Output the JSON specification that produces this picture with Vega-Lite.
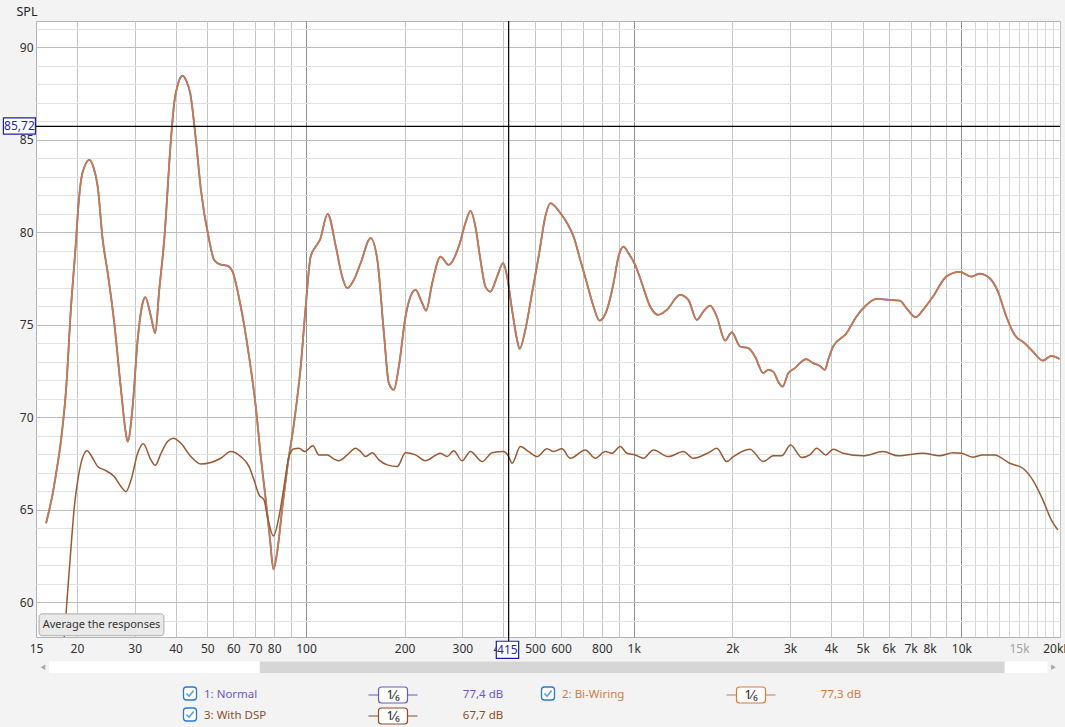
{
  "$schema": "https://vega.github.io/schema/vega-lite/v6.json",
  "width": 1024,
  "height": 616,
  "autosize": {"type": "none"},
  "padding": {"left": 36, "top": 21, "right": 5, "bottom": 90},
  "background": "#f3f3f3",
  "view": {"fill": "#ffffff", "stroke": "#b3b3b3"},
  "config": {"font": "Noto Sans", "text": {"font": "Noto Sans"}},
  "datasets": {
    "upper": [
      {"f":16.1,"n":64.27,"b":64.27},{"f":16.88,"n":65.9,"b":65.9},{"f":17.28,"n":66.97,"b":66.97},{"f":17.89,"n":68.77,"b":68.77},
      {"f":18.53,"n":71.5,"b":71.5},{"f":19.19,"n":75.98,"b":75.98},{"f":19.88,"n":79.58,"b":79.58},{"f":20.12,"n":81.0,"b":81.0},
      {"f":20.58,"n":82.8,"b":82.8},{"f":21.17,"n":83.6,"b":83.6},{"f":21.82,"n":83.9,"b":83.9},{"f":22.47,"n":83.5,"b":83.5},
      {"f":23.14,"n":82.46,"b":82.46},{"f":23.97,"n":79.58,"b":79.58},{"f":24.83,"n":77.8,"b":77.8},{"f":26.0,"n":75.08,"b":75.08},
      {"f":27.25,"n":71.5,"b":71.5},{"f":28.22,"n":69.1,"b":69.1},{"f":28.56,"n":68.68,"b":68.68},{"f":29.58,"n":70.57,"b":70.57},
      {"f":30.64,"n":74.18,"b":74.18},{"f":31.73,"n":76.16,"b":76.16},{"f":32.32,"n":76.49,"b":76.49},{"f":33.64,"n":75.44,"b":75.44},
      {"f":34.67,"n":74.54,"b":74.54},{"f":35.66,"n":76.88,"b":76.88},{"f":36.93,"n":79.58,"b":79.58},{"f":38.71,"n":84.99,"b":84.99},
      {"f":39.61,"n":86.97,"b":86.97},{"f":40.74,"n":88.05,"b":88.05},{"f":42.02,"n":88.45,"b":88.45},{"f":43.21,"n":88.14,"b":88.14},
      {"f":44.33,"n":87.51,"b":87.51},{"f":46.13,"n":84.99,"b":84.99},{"f":47.78,"n":82.3,"b":82.3},{"f":50.63,"n":79.58,"b":79.58},
      {"f":52.45,"n":78.5,"b":78.5},{"f":54.96,"n":78.24,"b":78.24},{"f":57.61,"n":78.18,"b":78.18},{"f":59.67,"n":77.87,"b":77.87},
      {"f":63.24,"n":75.98,"b":75.98},{"f":67.04,"n":73.28,"b":73.28},{"f":70.27,"n":70.57,"b":70.57},{"f":72.78,"n":67.87,"b":67.87},
      {"f":75.38,"n":65.54,"b":65.54},{"f":77.69,"n":63.37,"b":63.37},{"f":79.57,"n":61.78,"b":61.78},{"f":81.83,"n":62.82,"b":62.82},
      {"f":84.75,"n":65.17,"b":65.17},{"f":87.78,"n":67.33,"b":67.33},{"f":91.93,"n":69.68,"b":69.68},{"f":96.36,"n":72.73,"b":72.73},
      {"f":99.8,"n":75.98,"b":75.98},{"f":103.35,"n":78.68,"b":78.68},{"f":107.05,"n":79.22,"b":79.22},{"f":110.3,"n":79.58,"b":79.58},
      {"f":116.45,"n":80.99,"b":80.99},{"f":123.1,"n":79.3,"b":79.3},{"f":128.5,"n":77.7,"b":77.7},{"f":133.7,"n":76.97,"b":76.97},
      {"f":139.8,"n":77.4,"b":77.4},{"f":146.8,"n":78.32,"b":78.32},{"f":157.5,"n":79.68,"b":79.68},{"f":165.1,"n":78.5,"b":78.5},
      {"f":172.9,"n":74.54,"b":74.54},{"f":179.0,"n":71.84,"b":71.84},{"f":185.4,"n":71.48,"b":71.48},{"f":192.0,"n":72.73,"b":72.73},
      {"f":201.3,"n":75.44,"b":75.44},{"f":208.4,"n":76.52,"b":76.52},{"f":215.9,"n":76.88,"b":76.88},{"f":226.3,"n":76.16,"b":76.16},
      {"f":232.7,"n":75.76,"b":75.76},{"f":242.7,"n":77.24,"b":77.24},{"f":257.3,"n":78.68,"b":78.68},{"f":272.7,"n":78.23,"b":78.23},
      {"f":292.6,"n":79.22,"b":79.22},{"f":306.6,"n":80.49,"b":80.49},{"f":317.6,"n":81.15,"b":81.15},{"f":328.9,"n":80.3,"b":80.3},
      {"f":340.7,"n":78.5,"b":78.5},{"f":352.8,"n":77.06,"b":77.06},{"f":365.4,"n":76.79,"b":76.79},{"f":383.0,"n":77.6,"b":77.6},
      {"f":399.5,"n":78.32,"b":78.32},{"f":410.9,"n":77.6,"b":77.6},{"f":425.5,"n":75.8,"b":75.8},{"f":440.7,"n":74.18,"b":74.18},
      {"f":448.8,"n":73.69,"b":73.69},{"f":467.1,"n":74.72,"b":74.72},{"f":489.6,"n":76.7,"b":76.7},{"f":512.8,"n":78.68,"b":78.68},
      {"f":537.5,"n":80.84,"b":80.84},{"f":556.7,"n":81.57,"b":81.57},{"f":597.2,"n":81.03,"b":81.03},{"f":626.0,"n":80.49,"b":80.49},
      {"f":655.7,"n":79.76,"b":79.76},{"f":687.1,"n":78.5,"b":78.5},{"f":720.1,"n":77.24,"b":77.24},{"f":754.3,"n":75.98,"b":75.98},
      {"f":786.7,"n":75.22,"b":75.22},{"f":828.6,"n":75.8,"b":75.8},{"f":868.0,"n":77.24,"b":77.24},{"f":898.9,"n":78.68,"b":78.68},
      {"f":930.9,"n":79.22,"b":79.22},{"f":964.2,"n":78.86,"b":78.86},{"f":1010.6,"n":78.23,"b":78.23},{"f":1059.2,"n":77.24,"b":77.24},
      {"f":1122.6,"n":75.98,"b":75.98},{"f":1190.0,"n":75.53,"b":75.53},{"f":1262.2,"n":75.8,"b":75.8},{"f":1385.5,"n":76.61,"b":76.61},
      {"f":1468.9,"n":76.34,"b":76.34},{"f":1557.9,"n":75.26,"b":75.26},{"f":1631.6,"n":75.71,"b":75.71},{"f":1710.9,"n":76.03,"b":76.03},
      {"f":1793.2,"n":75.44,"b":75.44},{"f":1900.8,"n":74.14,"b":74.14},{"f":1992.2,"n":74.59,"b":74.59},{"f":2111.7,"n":73.82,"b":73.82},
      {"f":2238.3,"n":73.73,"b":73.73},{"f":2345.9,"n":73.28,"b":73.28},{"f":2486.6,"n":72.38,"b":72.38},{"f":2575.2,"n":72.56,"b":72.56},
      {"f":2666.9,"n":72.46,"b":72.46},{"f":2762.1,"n":71.92,"b":71.92},{"f":2848.7,"n":71.65,"b":71.65},{"f":2962.7,"n":72.38,"b":72.38},
      {"f":3105.3,"n":72.65,"b":72.65},{"f":3215.9,"n":72.92,"b":72.92},{"f":3354.3,"n":73.14,"b":73.14},{"f":3530.2,"n":72.92,"b":72.92},
      {"f":3700.8,"n":72.77,"b":72.77},{"f":3832.6,"n":72.56,"b":72.56},{"f":3922.8,"n":73.1,"b":73.1},{"f":4062.5,"n":73.82,"b":73.82},
      {"f":4462.5,"n":74.54,"b":74.54},{"f":4786.3,"n":75.44,"b":75.44},{"f":5075.3,"n":75.98,"b":75.98},{"f":5508.9,"n":76.39,"b":76.39},
      {"f":6046.3,"n":76.34,"b":76.34},{"f":6486.5,"n":76.3,"b":76.3},{"f":6798.5,"n":75.89,"b":75.89},{"f":7257.8,"n":75.4,"b":75.4},
      {"f":7638.5,"n":75.8,"b":75.8},{"f":8193.5,"n":76.52,"b":76.52},{"f":9001.8,"n":77.6,"b":77.6},{"f":9880.6,"n":77.85,"b":77.85},
      {"f":10727,"n":77.6,"b":77.6},{"f":11372,"n":77.75,"b":77.75},{"f":12199,"n":77.51,"b":77.51},{"f":12930,"n":76.79,"b":76.79},
      {"f":13714,"n":75.44,"b":75.44},{"f":14537,"n":74.45,"b":74.45},{"f":15590,"n":74.0,"b":74.0},{"f":16524,"n":73.55,"b":73.55},
      {"f":17730,"n":73.06,"b":73.06},{"f":18805,"n":73.31,"b":73.31},{"f":19937,"n":73.14,"b":73.14}
    ],
    "dsp": [
      {"f":16.1,"db":47},{"f":17.64,"db":55},{"f":18.53,"db":59.4},{"f":18.75,"db":60.66},{"f":19.19,"db":63.0},{"f":19.64,"db":65.17},
      {"f":20.12,"db":66.6},{"f":20.57,"db":67.5},{"f":21.47,"db":68.19},{"f":22.35,"db":67.78},{"f":23.14,"db":67.33},{"f":24.24,"db":67.15},
      {"f":26.0,"db":66.79},{"f":27.25,"db":66.25},{"f":28.22,"db":65.98},{"f":29.24,"db":66.6},{"f":30.64,"db":68.05},{"f":31.86,"db":68.56},
      {"f":33.64,"db":67.69},{"f":34.67,"db":67.4},{"f":36.11,"db":68.05},{"f":37.82,"db":68.68},{"f":39.34,"db":68.86},{"f":41.52,"db":68.59},
      {"f":44.54,"db":67.87},{"f":47.78,"db":67.47},{"f":51.24,"db":67.55},{"f":54.96,"db":67.78},{"f":58.97,"db":68.14},{"f":63.24,"db":67.87},
      {"f":67.04,"db":67.33},{"f":69.43,"db":66.6},{"f":71.91,"db":65.8},{"f":74.47,"db":65.53},{"f":76.27,"db":64.63},{"f":79.57,"db":63.58},
      {"f":82.74,"db":64.63},{"f":85.7,"db":66.25},{"f":88.75,"db":67.87},{"f":91.93,"db":68.29},{"f":95.21,"db":68.32},{"f":99.08,"db":68.14},
      {"f":105.0,"db":68.45},{"f":109.5,"db":67.96},{"f":116.2,"db":67.96},{"f":121.7,"db":67.73},{"f":126.0,"db":67.65},{"f":133.7,"db":67.96},
      {"f":141.7,"db":68.32},{"f":146.8,"db":68.14},{"f":152.0,"db":67.87},{"f":159.4,"db":68.08},{"f":166.9,"db":67.69},{"f":177.0,"db":67.42},
      {"f":189.9,"db":67.33},{"f":201.3,"db":68.08},{"f":215.9,"db":67.96},{"f":231.6,"db":67.65},{"f":257.3,"db":68.05},{"f":269.7,"db":67.87},
      {"f":282.4,"db":68.19},{"f":299.5,"db":67.64},{"f":317.6,"db":68.14},{"f":344.8,"db":67.6},{"f":369.8,"db":68.08},{"f":401.2,"db":68.14},
      {"f":415.4,"db":67.87},{"f":425.5,"db":67.51},{"f":451.1,"db":68.41},{"f":478.1,"db":68.14},{"f":507.2,"db":67.87},{"f":543.9,"db":68.29},
      {"f":569.7,"db":68.14},{"f":604.2,"db":68.29},{"f":640.6,"db":67.78},{"f":711.6,"db":68.23},{"f":763.4,"db":67.78},{"f":818.9,"db":68.14},
      {"f":858.3,"db":68.05},{"f":909.7,"db":68.41},{"f":953.4,"db":68.05},{"f":1010.6,"db":67.96},{"f":1071.3,"db":67.78},{"f":1148.8,"db":68.23},
      {"f":1276.3,"db":67.87},{"f":1417.9,"db":68.14},{"f":1521.0,"db":67.78},{"f":1690.5,"db":68.08},{"f":1793.2,"db":68.32},{"f":1923.1,"db":67.6},
      {"f":2014.8,"db":67.87},{"f":2264.6,"db":68.27},{"f":2486.6,"db":67.6},{"f":2666.9,"db":67.91},{"f":2829.1,"db":67.91},{"f":3013.0,"db":68.5},
      {"f":3254.6,"db":67.82},{"f":3449.8,"db":67.96},{"f":3615.8,"db":68.32},{"f":3858.5,"db":67.96},{"f":4062.5,"db":68.27},{"f":4357.9,"db":68.05},
      {"f":5014.9,"db":67.91},{"f":5769.9,"db":68.14},{"f":6409.3,"db":67.91},{"f":7638.5,"db":68.05},{"f":8586.5,"db":67.92},{"f":9427.6,"db":68.08},
      {"f":10000,"db":68.05},{"f":10847,"db":67.84},{"f":11634,"db":67.96},{"f":12632,"db":67.96},{"f":14034,"db":67.51},{"f":15404,"db":67.24},
      {"f":16524,"db":66.6},{"f":17730,"db":65.53},{"f":18805,"db":64.45},{"f":19695,"db":63.91}
    ],
    "cursor": [{"f": 415.4, "spl": 85.72, "fl": "415", "sl": "85,72"}],
    "ui": [{"label": "Average the responses"}],
    "legend": [
      {"id": 1, "name": "1: Normal", "smooth": "1⁄₆", "level": "77,4 dB"},
      {"id": 2, "name": "2: Bi-Wiring", "smooth": "1⁄₆", "level": "77,3 dB"},
      {"id": 3, "name": "3: With DSP", "smooth": "1⁄₆", "level": "67,7 dB"}
    ]
  },
  "layer": [
    {
      "layer": [
        {
          "data": {"name": "upper"},
          "mark": {"type": "line", "color": "#7466c8", "strokeWidth": 1.8, "interpolate": "monotone", "clip": true},
          "encoding": {
            "x": {
              "field": "f", "type": "quantitative",
              "scale": {"type": "log", "domain": [15, 20000], "nice": false},
              "axis": {
                "values": [15,20,30,40,50,60,70,80,90,100,200,300,400,500,600,700,800,900,1000,2000,3000,4000,5000,6000,7000,8000,9000,10000,11000,12000,13000,14000,15000,16000,17000,18000,19000,20000],
                "tickCount": 200,
                "labelExpr": "indexof([15,20,30,40,50,60,70,80,100,200,300,400,500,600,800,1000,2000,3000,4000,5000,6000,7000,8000,10000,15000], datum.value) >= 0 ? (datum.value >= 1000 ? (datum.value / 1000) + 'k' : '' + datum.value) : (datum.value == 20000 ? '20kHz' : '')",
                "grid": true,
                "gridColor": {"condition": {"test": "datum.value == 100 || datum.value == 1000 || datum.value == 10000", "value": "#8e8e8e"}, "value": "#c6c6c6"},
                "gridWidth": {"condition": {"test": "datum.value == 15", "value": 0}, "value": 1},
                "gridOpacity": {"condition": {"test": "datum.value > 10000", "value": 0.7}, "value": 1},
                "labelColor": {"condition": {"test": "datum.value == 15000", "value": "#a3a3a3"}, "value": "#303030"},
                "domain": false, "ticks": false, "labelPadding": 6, "labelFlush": false, "labelOverlap": false,
                "labelFontSize": 12, "labelFont": "Noto Sans", "title": null
              }
            },
            "y": {
              "field": "n", "type": "quantitative",
              "scale": {"domain": [58.12, 91.41], "nice": false, "zero": false},
              "axis": {
                "values": [59,60,61,62,63,64,65,66,67,68,69,70,71,72,73,74,75,76,77,78,79,80,81,82,83,84,85,86,87,88,89,90,91],
                "tickCount": 200,
                "labelExpr": "datum.value % 5 == 0 ? '' + datum.value : ''",
                "grid": true,
                "gridColor": {"condition": {"test": "datum.value % 5 == 0", "value": "#bcbcbc"}, "value": "#e2e2e2"},
                "domain": false, "ticks": false, "labelPadding": 3, "labelOverlap": false,
                "labelFontSize": 12, "labelFont": "Noto Sans", "labelColor": "#303030",
                "title": "SPL", "titleAngle": 0, "titleAlign": "left", "titleBaseline": "middle",
                "titleX": -20, "titleY": -10, "titleFontWeight": "normal", "titleFontSize": 12.5,
                "titleColor": "#222222", "titleFont": "Noto Sans"
              }
            }
          }
        },
        {
          "data": {"name": "upper"},
          "mark": {"type": "line", "color": "#c97b45", "strokeWidth": 1.7, "interpolate": "monotone", "clip": true},
          "encoding": {"x": {"field": "f", "type": "quantitative"}, "y": {"field": "b", "type": "quantitative"}}
        },
        {
          "data": {"name": "dsp"},
          "mark": {"type": "line", "color": "#975a33", "strokeWidth": 1.5, "interpolate": "monotone", "clip": true},
          "encoding": {"x": {"field": "f", "type": "quantitative"}, "y": {"field": "db", "type": "quantitative"}}
        },
        {
          "data": {"name": "cursor"},
          "mark": {"type": "rule", "color": "#000000", "strokeWidth": 1.2},
          "encoding": {"x": {"field": "f", "type": "quantitative"}, "y": {"datum": 91.41}, "y2": {"datum": 57.89}}
        },
        {
          "data": {"name": "cursor"},
          "mark": {"type": "rule", "color": "#000000", "strokeWidth": 1.2},
          "encoding": {"y": {"field": "spl", "type": "quantitative"}, "x": {"datum": 14.94}, "x2": {"datum": 20000}}
        },
        {
          "data": {"name": "cursor"},
          "mark": {"type": "rect", "fill": "#ffffff", "stroke": "#1f1fa6", "strokeWidth": 1.2},
          "encoding": {"x": {"datum": 11.93}, "x2": {"datum": 14.94}, "y": {"datum": 86.18}, "y2": {"datum": 85.3}}
        },
        {
          "data": {"name": "cursor"},
          "mark": {"type": "text", "color": "#2626b5", "align": "center", "baseline": "middle", "fontSize": 12},
          "encoding": {"x": {"datum": 13.35}, "y": {"field": "spl", "type": "quantitative"}, "text": {"field": "sl"}}
        },
        {
          "data": {"name": "cursor"},
          "mark": {"type": "rect", "fill": "#ffffff", "stroke": "#1f1fa6", "strokeWidth": 1.2},
          "encoding": {"x": {"datum": 380.9}, "x2": {"datum": 445.7}, "y": {"datum": 57.89}, "y2": {"datum": 56.96}}
        },
        {
          "data": {"name": "cursor"},
          "mark": {"type": "text", "color": "#2626b5", "align": "center", "baseline": "middle", "fontSize": 12},
          "encoding": {"x": {"datum": 411.7}, "y": {"datum": 57.42}, "text": {"field": "fl"}}
        },
        {
          "data": {"name": "ui"},
          "mark": {"type": "rect", "fill": "#e9e9e9", "stroke": "#acacac", "strokeWidth": 1, "cornerRadius": 3},
          "encoding": {"x": {"datum": 15.33}, "x2": {"datum": 36.85}, "y": {"datum": 59.37}, "y2": {"datum": 58.19}}
        },
        {
          "data": {"name": "ui"},
          "mark": {"type": "text", "color": "#333333", "align": "center", "baseline": "middle", "fontSize": 11},
          "encoding": {"x": {"datum": 23.77}, "y": {"datum": 58.78}, "text": {"field": "label"}}
        },
        {
          "data": {"name": "ui"},
          "mark": {"type": "rect", "fill": "#ffffff"},
          "encoding": {"x": {"datum": 16.43}, "x2": {"datum": 18324}, "y": {"datum": 56.8}, "y2": {"datum": 56.17}}
        },
        {
          "data": {"name": "ui"},
          "mark": {"type": "rect", "fill": "#d6d6d6"},
          "encoding": {"x": {"datum": 72.27}, "x2": {"datum": 13552}, "y": {"datum": 56.8}, "y2": {"datum": 56.17}}
        },
        {
          "data": {"name": "ui"},
          "mark": {"type": "point", "shape": "triangle-left", "size": 30, "filled": true, "color": "#8a8a8a"},
          "encoding": {"x": {"datum": 15.75}, "y": {"datum": 56.49}}
        },
        {
          "data": {"name": "ui"},
          "mark": {"type": "point", "shape": "triangle-right", "size": 30, "filled": true, "color": "#8a8a8a"},
          "encoding": {"x": {"datum": 19100}, "y": {"datum": 56.49}}
        }
      ]
    },
    {
      "data": {"name": "legend"},
      "transform": [
        {"calculate": "datum.id == 2 ? 2 : 1", "as": "col"},
        {"calculate": "datum.id == 3 ? 2 : 1", "as": "row"}
      ],
      "encoding": {
        "x": {"field": "col", "type": "quantitative", "scale": {"domain": [1, 2], "range": [154, 512], "nice": false, "zero": false}, "axis": null},
        "y": {"field": "row", "type": "quantitative", "scale": {"domain": [1, 2], "range": [674, 695], "nice": false, "zero": false}, "axis": null}
      },
      "layer": [
        {
          "data": {"values": [{}]},
          "mark": {"type": "rect", "fill": "#ffffff", "stroke": "#c9c9c9", "strokeWidth": 1, "xOffset": -13, "x2Offset": 351, "yOffset": -17, "y2Offset": 30},
          "encoding": {"x": {"datum": 1}, "x2": {"datum": 2}, "y": {"datum": 1}, "y2": {"datum": 2}}
        },
        {
          "mark": {"type": "rect", "fill": "#ffffff", "stroke": "#2a78d4", "strokeWidth": 1.3, "cornerRadius": 3, "xOffset": -6.5, "x2Offset": 6.5, "yOffset": -8, "y2Offset": 5},
          "encoding": {"x2": {"field": "col"}, "y2": {"field": "row"}}
        },
        {
          "mark": {"type": "point", "shape": "M-0.6,0L-0.15,0.45L0.6,-0.5", "size": 144, "filled": false, "stroke": "#2a78d4", "strokeWidth": 1.7, "yOffset": -1.5}
        },
        {
          "mark": {"type": "text", "align": "left", "baseline": "middle", "dx": 14, "fontSize": 11.5},
          "encoding": {
            "text": {"field": "name"},
            "color": {"field": "name", "type": "nominal", "scale": {"domain": ["1: Normal", "2: Bi-Wiring", "3: With DSP"], "range": ["#6a58c4", "#d67a3e", "#8e4d28"]}, "legend": null}
          }
        },
        {
          "mark": {"type": "rule", "strokeWidth": 1.2, "xOffset": 178.5, "x2Offset": 227.5},
          "encoding": {
            "x2": {"field": "col"},
            "stroke": {"field": "name", "type": "nominal", "scale": {"domain": ["1: Normal", "2: Bi-Wiring", "3: With DSP"], "range": ["#6a58c4", "#d67a3e", "#8e4d28"]}, "legend": null}
          }
        },
        {
          "mark": {"type": "rect", "fill": "#ffffff", "strokeWidth": 1.2, "cornerRadius": 3, "xOffset": 188.5, "x2Offset": 217.5, "yOffset": -8, "y2Offset": 8},
          "encoding": {
            "x2": {"field": "col"}, "y2": {"field": "row"},
            "stroke": {"field": "name", "type": "nominal", "scale": {"domain": ["1: Normal", "2: Bi-Wiring", "3: With DSP"], "range": ["#6a58c4", "#d67a3e", "#8e4d28"]}, "legend": null}
          }
        },
        {
          "mark": {"type": "text", "align": "center", "baseline": "middle", "dx": 203, "fontSize": 12.5, "color": "#222222"},
          "encoding": {"text": {"field": "smooth"}}
        },
        {
          "mark": {"type": "text", "align": "center", "baseline": "middle", "dx": 293, "fontSize": 11.5},
          "encoding": {
            "text": {"field": "level"},
            "color": {"field": "name", "type": "nominal", "scale": {"domain": ["1: Normal", "2: Bi-Wiring", "3: With DSP"], "range": ["#6a58c4", "#d67a3e", "#8e4d28"]}, "legend": null}
          }
        }
      ]
    }
  ],
  "resolve": {"scale": {"x": "independent", "y": "independent"}}
}
